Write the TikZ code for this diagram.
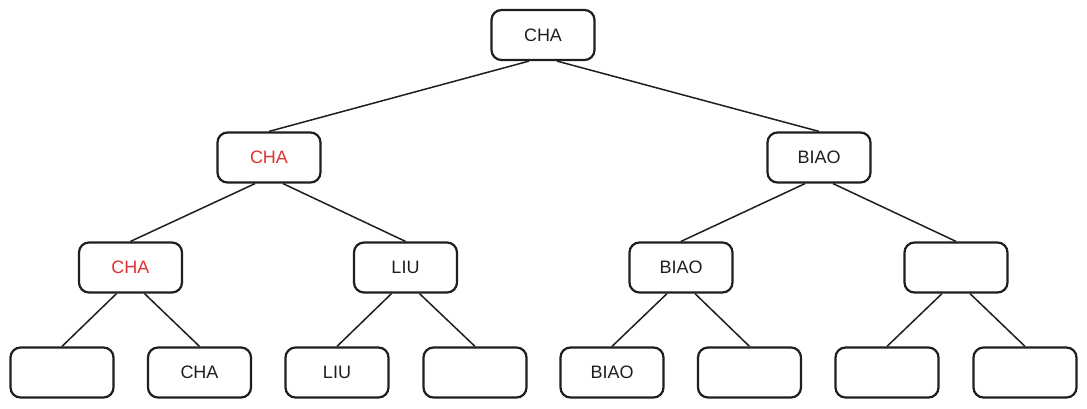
\documentclass[tikz,border=0pt]{standalone}
\usepackage{fontspec}
\setmainfont{Liberation Sans}
\definecolor{exred}{HTML}{E03131}
\definecolor{exink}{HTML}{1E1E1E}
\begin{document}
\begin{tikzpicture}[x=1pt,y=-1pt,
  box/.style={draw=exink,line width=2.2pt,rounded corners=10pt,minimum width=103pt,minimum height=50pt,inner sep=0pt,font=\fontsize{18}{18}\selectfont,text=exink},
  red/.style={text=exred},
  edge/.style={draw=exink,line width=1.5pt}]
\useasboundingbox (0,0) rectangle (1087,408);
\node[box] (r) at (543,35) {CHA};
\node[box,red] (a) at (269,157.5) {CHA};
\node[box] (b) at (819,157.5) {BIAO};
\node[box,red] (aa) at (130.5,267.5) {CHA};
\node[box] (ab) at (405.5,267.5) {LIU};
\node[box] (ba) at (681,267.5) {BIAO};
\node[box] (bb) at (956,267.5) {};
\node[box] (aaa) at (62,372.5) {};
\node[box] (aab) at (199.5,372.5) {CHA};
\node[box] (aba) at (337,372.5) {LIU};
\node[box] (abb) at (475,372.5) {};
\node[box] (baa) at (612,372.5) {BIAO};
\node[box] (bab) at (749.5,372.5) {};
\node[box] (bba) at (887,372.5) {};
\node[box] (bbb) at (1025,372.5) {};
\foreach \p/\l/\rr in {r/a/b,a/aa/ab,b/ba/bb,aa/aaa/aab,ab/aba/abb,ba/baa/bab,bb/bba/bbb}{
  \draw[edge] ([xshift=-14pt]\p.south) -- (\l.north);
  \draw[edge] ([xshift=14pt]\p.south) -- (\rr.north);
}
\end{tikzpicture}
\end{document}
